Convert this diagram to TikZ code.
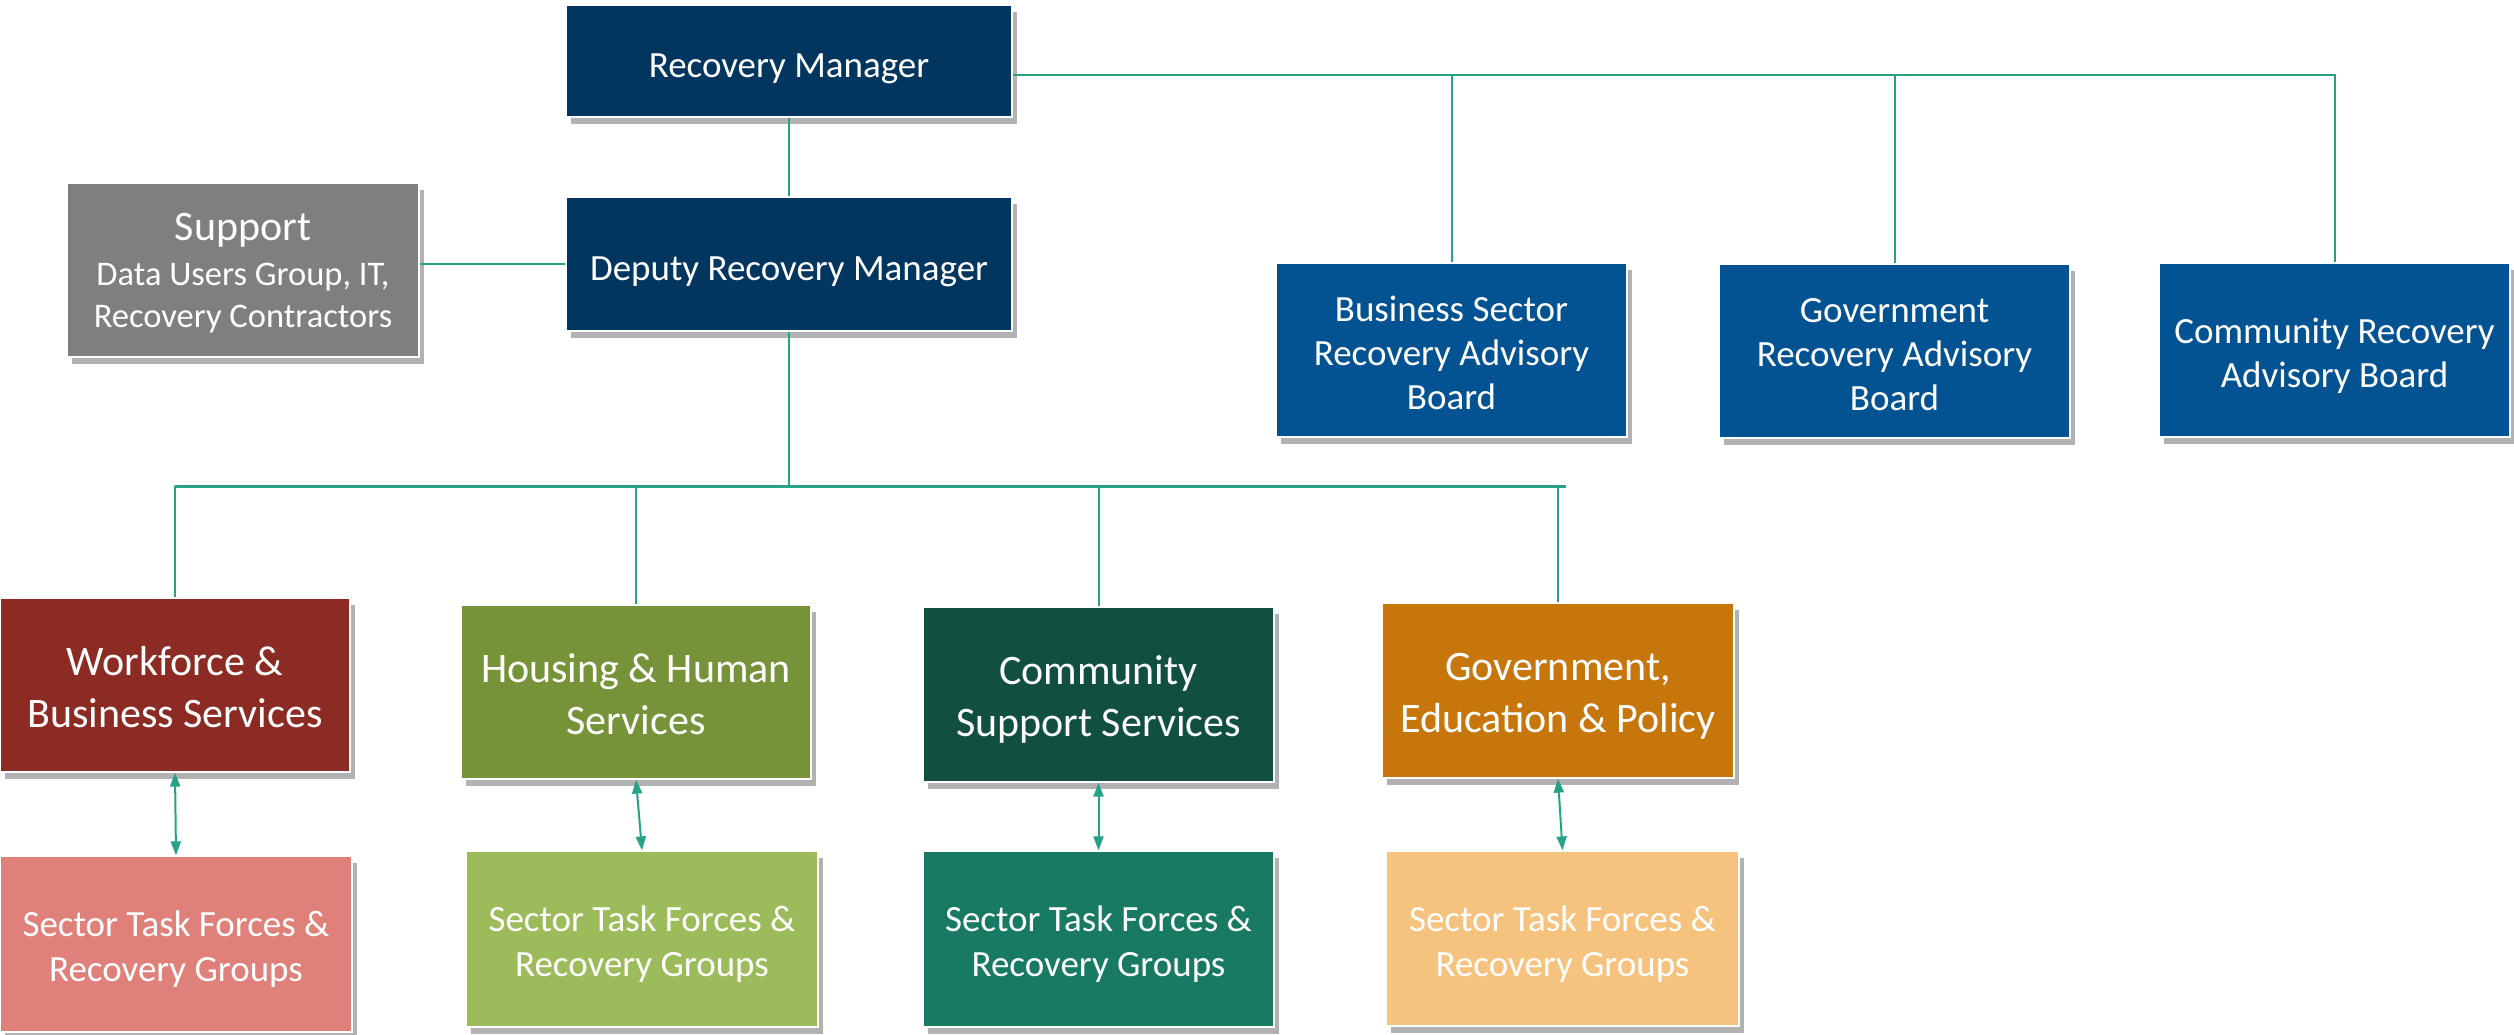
\documentclass[tikz,border=0pt]{standalone}
\usepackage{fontspec}
\setmainfont{Carlito}
\usetikzlibrary{shadows,arrows.meta}
\definecolor{navy}{HTML}{02365E}
\definecolor{supgray}{HTML}{7F7F7F}
\definecolor{boardblue}{HTML}{035291}
\definecolor{wfred}{HTML}{8C2A24}
\definecolor{hhgreen}{HTML}{779339}
\definecolor{csgreen}{HTML}{114F41}
\definecolor{georange}{HTML}{C7760C}
\definecolor{wfsub}{HTML}{DF817A}
\definecolor{hhsub}{HTML}{9CBB5A}
\definecolor{cssub}{HTML}{187A62}
\definecolor{gesub}{HTML}{F6C37E}
\definecolor{lineteal}{HTML}{26A287}
\newcommand\fsmain{\fontsize{37}{44}\selectfont}
\newcommand\fsbig{\fontsize{42}{52}\selectfont}
\newcommand\fssub{\fontsize{37}{45}\selectfont}
\newcommand\fssup{\fontsize{34.5}{42}\selectfont}
\newcommand\lowered[2][7pt]{\raisebox{-#1}[\height][\depth]{\begin{tabular}{@{}c@{}}#2\end{tabular}}}
\begin{document}
\begin{tikzpicture}[x=1pt,y=-1pt,
  box/.style={rectangle, draw=white, line width=1.2pt, inner sep=0pt,
    text=white,
    drop shadow={shadow xshift=5pt, shadow yshift=-7pt, opacity=0.3, fill=black}},
  conn/.style={draw=lineteal, line width=2pt},
  busline/.style={draw=lineteal, line width=3pt},
  arr/.style={draw=lineteal, line width=2pt,
    {Triangle[length=14pt,width=10pt]}-{Triangle[length=14pt,width=10pt]}}]
\useasboundingbox (0,0) rectangle (2514,1034);
\fill[white] (0,0) rectangle (2514,1034);

% top
\node[box, fill=navy, font=\fsmain, minimum width=446pt, minimum height=112pt] (rm) at (789,61) {\lowered[8pt]{Recovery Manager}};
\node[box, fill=navy, font=\fsmain, minimum width=446pt, minimum height=134pt] (drm) at (789,264) {\lowered[8pt]{Deputy Recovery Manager}};
\node[box, fill=supgray, font=\fssup, minimum width=352pt, minimum height=174pt] (sup) at (243,270) {\lowered[6pt]{{\fsbig Support}\\[3pt]Data Users Group, IT,\\Recovery Contractors}};

% boards
\node[box, fill=boardblue, font=\fsmain, minimum width=351pt, minimum height=174pt] (bb) at (1451.5,350) {\lowered{Business Sector\\Recovery Advisory\\Board}};
\node[box, fill=boardblue, font=\fsmain, minimum width=351pt, minimum height=174pt] (gb) at (1894.5,351) {\lowered{Government\\Recovery Advisory\\Board}};
\node[box, fill=boardblue, font=\fsmain, minimum width=351pt, minimum height=174pt] (cb) at (2334.5,350) {\lowered{Community Recovery\\Advisory Board}};

% services
\node[box, fill=wfred, font=\fsbig, minimum width=350pt, minimum height=174pt] (wf) at (175,685) {\lowered[6pt]{Workforce \&\\Business Services}};
\node[box, fill=hhgreen, font=\fsbig, minimum width=350pt, minimum height=174pt] (hh) at (636,692) {\lowered[6pt]{Housing \& Human\\Services}};
\node[box, fill=csgreen, font=\fsbig, minimum width=351pt, minimum height=175pt] (cs) at (1098.5,694.5) {\lowered[6pt]{Community\\Support Services}};
\node[box, fill=georange, font=\fsbig, minimum width=352pt, minimum height=175pt] (ge) at (1558,690.5) {\lowered[6pt]{Government,\\Education \& Policy}};

% sub groups
\node[box, fill=wfsub, font=\fssub, minimum width=352pt, minimum height=176pt] (wfs) at (176,944) {\lowered[6pt]{Sector Task Forces \&\\Recovery Groups}};
\node[box, fill=hhsub, font=\fssub, minimum width=352pt, minimum height=176pt] (hhs) at (642,939) {\lowered[6pt]{Sector Task Forces \&\\Recovery Groups}};
\node[box, fill=cssub, font=\fssub, minimum width=351pt, minimum height=176pt] (css) at (1098.5,939) {\lowered[6pt]{Sector Task Forces \&\\Recovery Groups}};
\node[box, fill=gesub, font=\fssub, minimum width=353pt, minimum height=175pt] (ges) at (1562.5,938.5) {\lowered[6pt]{Sector Task Forces \&\\Recovery Groups}};

% connectors top
\coordinate (rmout) at ([yshift=-14pt]rm.east);
\draw[conn] (rmout) -| (cb.north);
\draw[conn] (bb.north) -- (bb.north |- rmout);
\draw[conn] (gb.north) -- (gb.north |- rmout);
\draw[conn] (rm.south) -- (drm.north);
\draw[conn] (drm.west) -- (drm.west -| sup.east);

% bus
\coordinate (bus) at (0,486);
\draw[conn] (drm.south) -- (drm.south |- bus);
\draw[busline] (wf.north |- bus) -- ([xshift=8pt]ge.north |- bus);
\draw[conn] (wf.north) -- (wf.north |- bus);
\draw[conn] (hh.north) -- (hh.north |- bus);
\draw[conn] (cs.north) -- (cs.north |- bus);
\draw[conn] (ge.north) -- (ge.north |- bus);

% arrows
\draw[arr] (wf.south) -- (wfs.north);
\draw[arr] (hh.south) -- (hhs.north);
\draw[arr] (cs.south) -- (css.north);
\draw[arr] (ge.south) -- (ges.north);
\end{tikzpicture}
\end{document}
